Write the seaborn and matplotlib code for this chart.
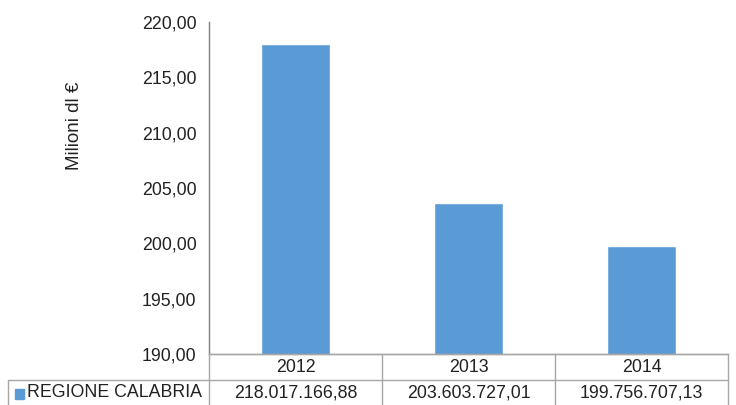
import matplotlib
matplotlib.use("Agg")
import matplotlib.pyplot as plt
import seaborn as sns
import pandas as pd
from matplotlib.lines import Line2D
from matplotlib.patches import Rectangle

years = ["2012", "2013", "2014"]
values = [218.01716688, 203.60372701, 199.75670713]
table_labels = ["218.017.166,88", "203.603.727,01", "199.756.707,13"]
series_name = "REGIONE CALABRIA"
yticks = [190, 195, 200, 205, 210, 215, 220]

sns.set_theme(style="white")
plt.rcParams['font.family'] = ['Liberation Sans', 'DejaVu Sans']

FS = 12.8
TC = "#222222"
W, H = 736, 405
fig = plt.figure(figsize=(W / 100, H / 100), dpi=100)
L, R, T, B = 209, 728, 22, 354
ax = fig.add_axes([L / W, 1 - B / H, (R - L) / W, (B - T) / H])

df = pd.DataFrame({"year": years, "value": values})
color = "#5B9BD5"
sns.barplot(data=df, x="year", y="value", color=color, saturation=1, width=0.4, ax=ax)

ax.set_ylim(190, 220)
ax.set_yticks(yticks)
ax.set_yticklabels([f"{v:.2f}".replace(".", ",") for v in yticks], fontsize=FS, color=TC)
ax.set_xlim(-0.5, 2.5)
ax.set_xticks([])
ax.set_xlabel("")
ax.set_ylabel("Milioni dl €", fontsize=13.5, color=TC)
ax.yaxis.set_label_coords(-0.243, 0.687)
ax.tick_params(axis="y", length=0, pad=9)

for s in ["top", "right"]:
    ax.spines[s].set_visible(False)
ax.spines["left"].set_color("#7f7f7f")
ax.spines["bottom"].set_color("#a6a6a6")
ax.spines["left"].set_linewidth(1.0)
ax.spines["bottom"].set_linewidth(1.0)

# Data table drawn in figure pixel coordinates
def fx(x):
    return x / W

def fy(y):
    return 1 - y / H

lc = "#a6a6a6"
lines = [
    ((L, R), (B, B)),
    ((8, R), (380, 380)),
    ((8, 8), (380, 405)),
    ((L, L), (B, 405)),
    ((382, 382), (B, 405)),
    ((555, 555), (B, 405)),
    ((R, R), (B, 405)),
]
for xs, ys in lines:
    fig.add_artist(Line2D([fx(xs[0]), fx(xs[1])], [fy(ys[0]), fy(ys[1])],
                          color=lc, lw=1.0, transform=fig.transFigure))

centers = [295.5, 468.5, 641.5]
for cx, yr, lab in zip(centers, years, table_labels):
    fig.text(fx(cx), fy(367), yr, ha="center", va="center", fontsize=FS, color=TC)
    fig.text(fx(cx), fy(392.5), lab, ha="center", va="center", fontsize=FS, color=TC)

fig.add_artist(Rectangle((fx(15), fy(399)), 9 / W, 10 / H, color=color, transform=fig.transFigure))
fig.text(fx(27), fy(392.5), series_name, ha="left", va="center", fontsize=FS, color=TC)

fig.savefig("out.png", dpi=100)
